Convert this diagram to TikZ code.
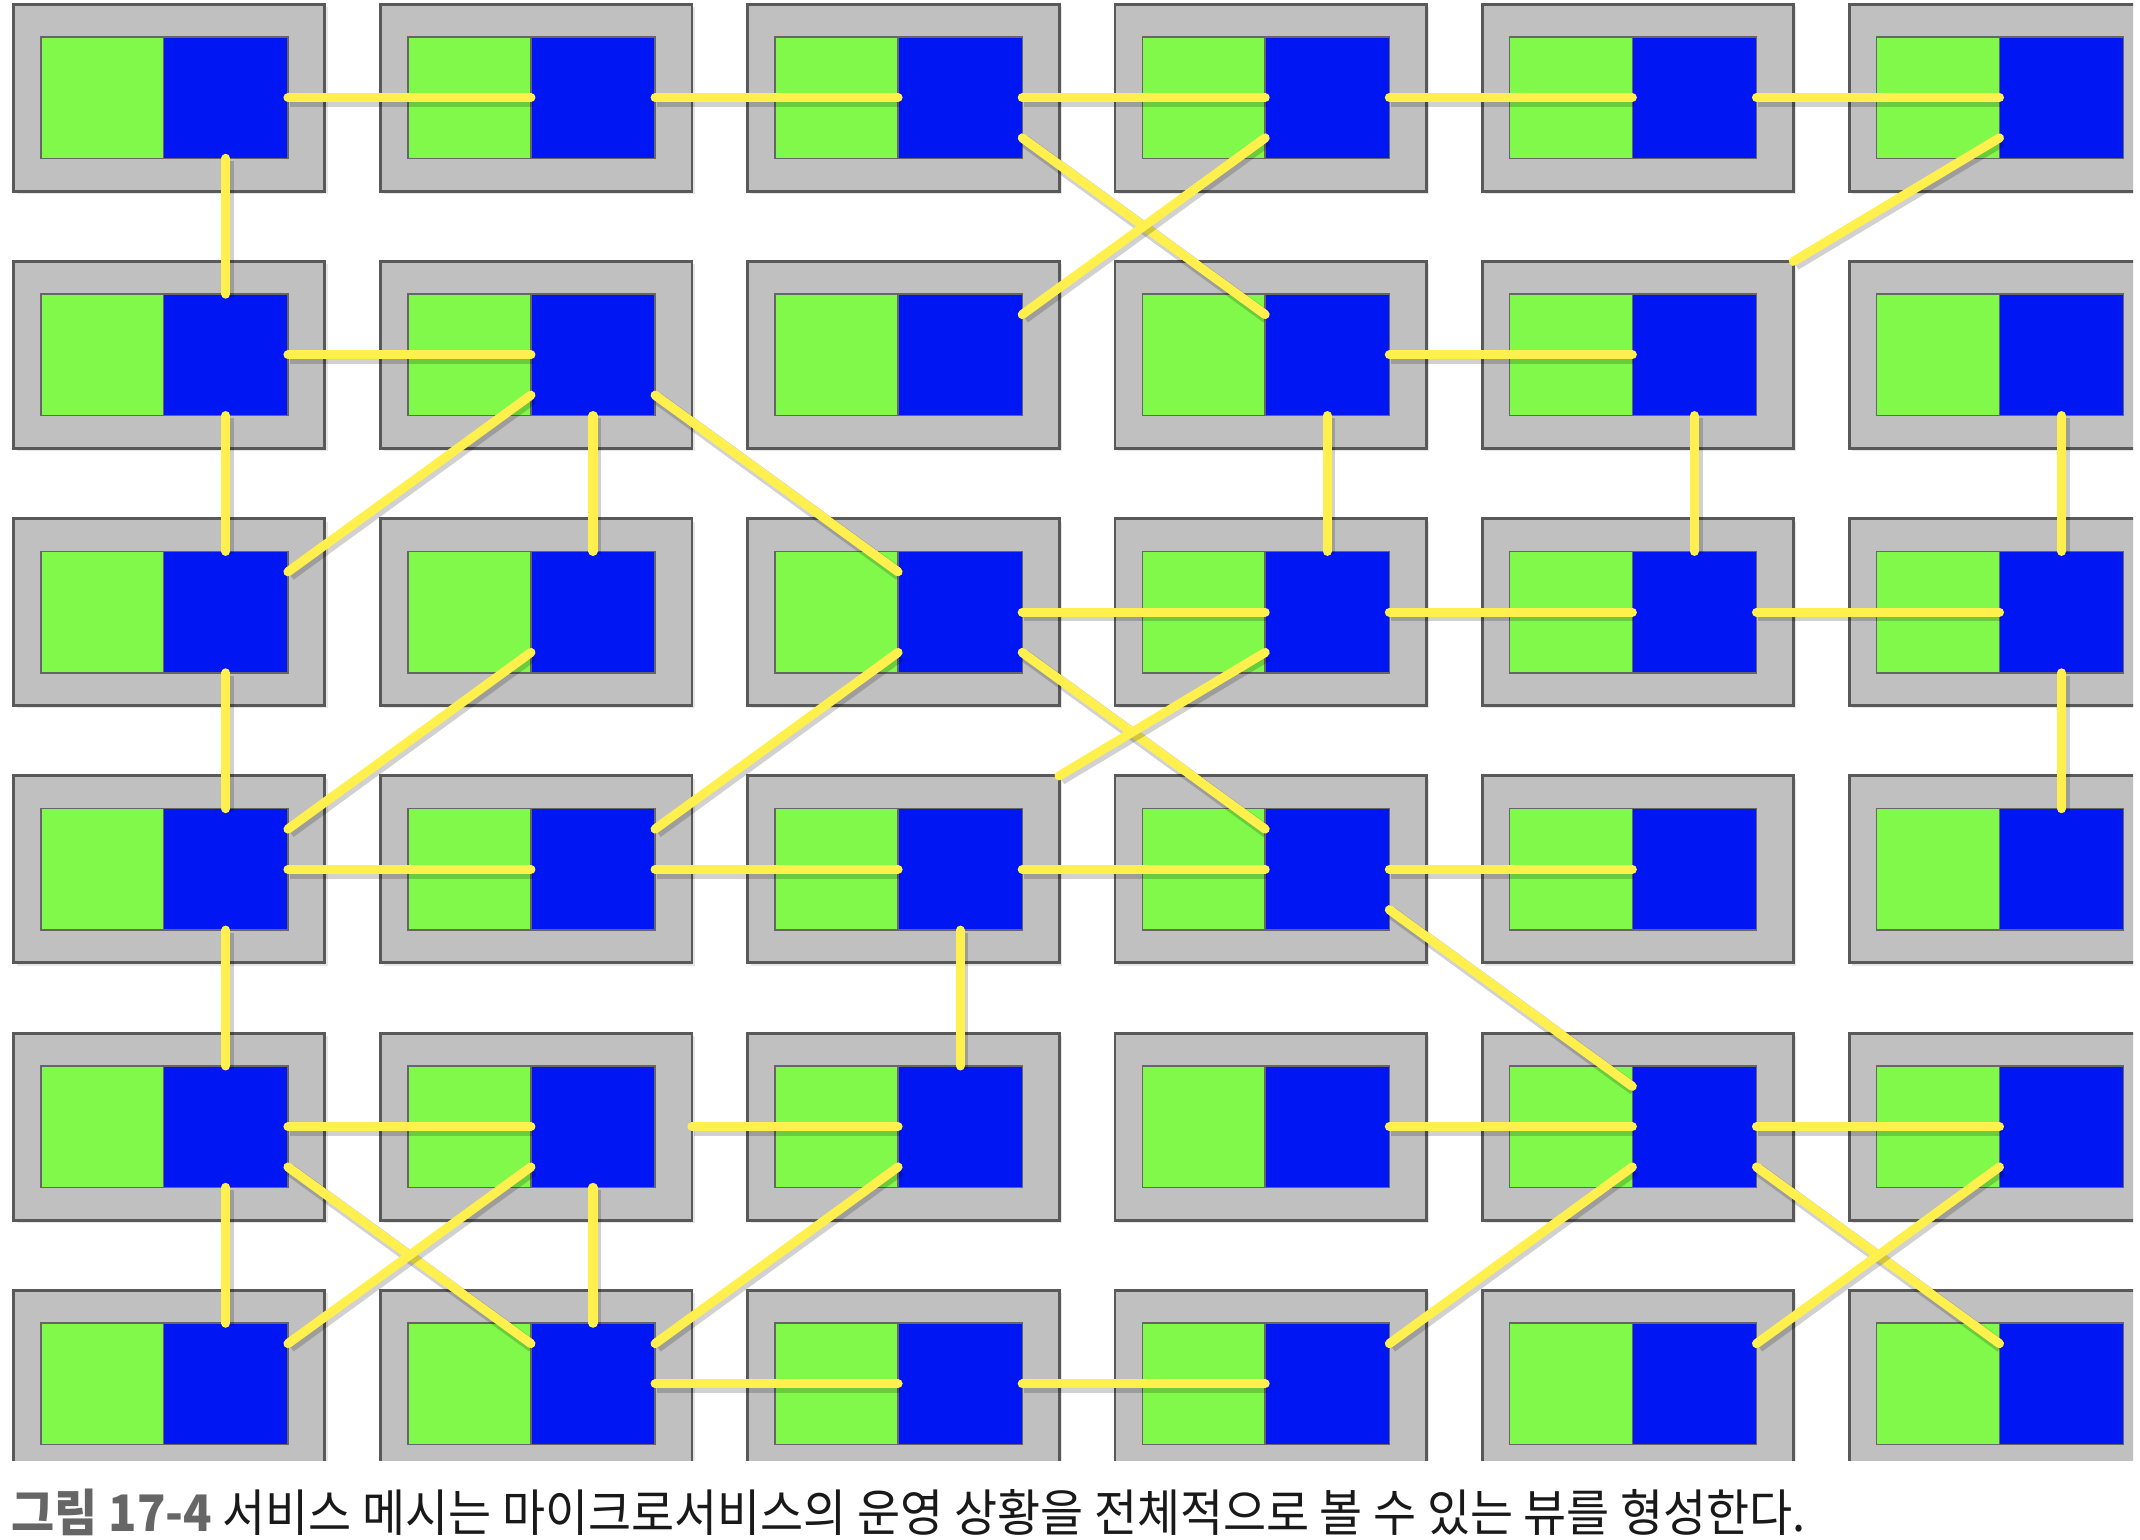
\documentclass[tikz,border=0pt]{standalone}
\usepackage{fontspec}
\newfontfamily\cjk{Noto Sans CJK KR}[FakeStretch=0.93]
\usetikzlibrary{positioning,shadows}

\definecolor{podgray}{HTML}{C0C0C0}
\definecolor{appgreen}{HTML}{80F94B}
\definecolor{proxyblue}{HTML}{0016F2}
\definecolor{meshyellow}{HTML}{FFF04E}

\tikzset{
  podbox/.style={draw=black!65, line width=0.6pt, fill=podgray,
    minimum width=2.28cm, minimum height=1.37cm, inner sep=0pt, outer sep=0pt,
    drop shadow={opacity=0.2, shadow xshift=0.6pt, shadow yshift=-0.6pt}},
  appbox/.style={draw=black!60, line width=0.3pt, fill=appgreen,
    minimum width=0.90cm, minimum height=0.89cm, inner sep=0pt, outer sep=0pt},
  proxybox/.style={appbox, fill=proxyblue, minimum width=0.91cm},
  meshline/.style={draw=meshyellow, line width=1.9pt, line cap=round,
    preaction={draw=black, draw opacity=0.18, line width=2.6pt,
      transform canvas={shift={(0.4pt,-0.6pt)}}}}
}

\begin{document}
\begin{tikzpicture}
\useasboundingbox (0,0) rectangle (15.68,-11.28);

% pods: gray box, green service, blue sidecar proxy
\begin{scope}
\clip (0,0) rectangle (15.63,-10.70);
\foreach \r in {1,...,6} {
  \foreach \c in {1,...,6} {
    \node[podbox] (o-\r-\c) at ({1.24+2.69*(\c-1)}, {-0.715-1.885*(\r-1)}) {};
    \node[proxybox] (b-\r-\c) at ({1.655+2.69*(\c-1)}, {-0.715-1.885*(\r-1)}) {};
    \node[appbox, left=0pt of b-\r-\c] (g-\r-\c) {};
  }
}
\end{scope}

% mesh links, row by row
\foreach \r/\c [evaluate=\c as \d using int(\c+1)] in {1/1,1/2,1/3,1/4,1/5,2/1,2/4,3/3,3/4,3/5,4/1,4/2,4/3,4/4,5/1,5/4,5/5,6/2,6/3}
  \draw[meshline] (b-\r-\c.east) -- (b-\r-\d.west);
\foreach \r/\c [evaluate=\r as \s using int(\r+1)] in {1/1,2/1,2/2,2/4,2/5,2/6,3/1,3/6,4/1,4/3,5/1,5/2}
  \draw[meshline] (b-\r-\c.south) -- (b-\s-\c.north);
\foreach \r/\c [evaluate=\r as \s using int(\r+1), evaluate=\c as \d using int(\c+1)] in {1/3,2/2,3/3,4/4,5/1,5/5}
  \draw[meshline] (b-\r-\c.-33) -- (b-\s-\d.147);
\foreach \r/\c [evaluate=\r as \s using int(\r+1), evaluate=\c as \d using int(\c-1)] in {1/4,2/2,3/2,3/3,5/2,5/3,5/5,5/6}
  \draw[meshline] (b-\r-\c.-147) -- (b-\s-\d.33);
\draw[meshline] (b-1-6.-147) -- (o-2-5.north east);
\draw[meshline] (b-3-4.-147) -- (o-4-3.north east);
\draw[meshline] (o-5-2.east) -- (b-5-3.west);

\node[anchor=west, inner sep=0pt, text=black!90, font=\cjk\fontsize{10.5}{12}\selectfont] (caption) at (0.08,-11.08)
  {{\bfseries\color{black!60}그림 17-4} 서비스 메시는 마이크로서비스의 운영 상황을 전체적으로 볼 수 있는 뷰를 형성한다.};
\end{tikzpicture}
\end{document}
